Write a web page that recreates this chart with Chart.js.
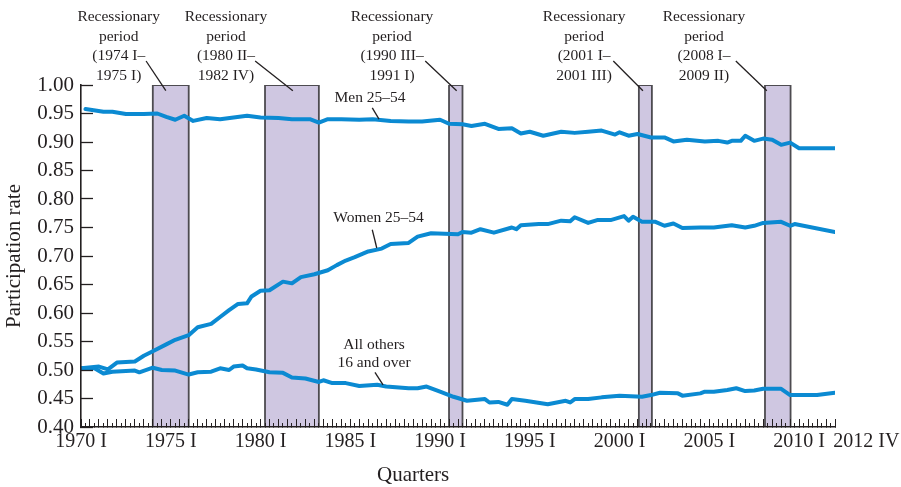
<!DOCTYPE html>
<html lang="en">
<head>
<meta charset="UTF-8">
<title>Participation rates</title>
<script src="https://cdn.jsdelivr.net/npm/chart.js"></script>
<style>
  body { margin: 0; background: #fff; }
  #wrap { width: 901px; height: 487px; }
</style>
</head>
<body>
<div id="wrap"><canvas id="myChart" width="901" height="487"></canvas></div>
<script>
// x values are quarter numbers: 0 = 1970 I, 168 = 2012 I
const menQ = [1,5,7,10,14,17,19,21,23,25,28,31,34,37,40,44,47,51,53,55,58,62,65,69,73,76,80,82,85,87,90,93,96,98,100,103,107,110,113,116,119,120,122,124,127,130,132,135,139,142,144,145,147,148,150,152,154,156,158,160,168];
const menRate = [0.958,0.953,0.953,0.949,0.949,0.950,0.944,0.939,0.946,0.937,0.942,0.940,0.943,0.946,0.943,0.942,0.940,0.940,0.934,0.940,0.940,0.939,0.940,0.937,0.936,0.936,0.939,0.932,0.931,0.928,0.932,0.923,0.924,0.915,0.918,0.911,0.918,0.916,0.918,0.920,0.913,0.917,0.911,0.914,0.908,0.908,0.901,0.904,0.901,0.902,0.899,0.902,0.902,0.911,0.902,0.906,0.904,0.895,0.899,0.889,0.889];

const womenQ = [0,4,6,8,12,14,16,19,21,24,26,29,31,33,35,37,38,40,42,45,47,49,52,55,57,59,61,64,67,69,73,75,78,81,84,85,87,89,92,96,97,98,102,104,107,109,110,113,115,118,121,122,123,125,128,130,132,134,138,141,145,148,150,152,156,158,159,168];
const womenRate = [0.503,0.506,0.501,0.513,0.515,0.525,0.533,0.545,0.553,0.561,0.575,0.581,0.593,0.605,0.616,0.617,0.629,0.639,0.640,0.655,0.652,0.663,0.668,0.675,0.684,0.692,0.698,0.708,0.713,0.721,0.723,0.734,0.740,0.739,0.738,0.742,0.741,0.747,0.741,0.750,0.747,0.754,0.756,0.756,0.762,0.761,0.768,0.758,0.763,0.763,0.770,0.762,0.769,0.760,0.760,0.753,0.757,0.749,0.750,0.750,0.754,0.750,0.753,0.758,0.760,0.753,0.756,0.742];

const othersQ = [0,3,5,7,12,13,16,18,21,24,26,29,31,33,34,36,37,39,42,45,47,50,53,54,56,59,62,66,68,73,75,77,80,83,86,90,91,93,95,96,99,104,108,109,110,113,116,120,125,127,129,133,134,138,139,141,144,146,148,150,152,156,158,164,168];
const othersRate = [0.503,0.503,0.494,0.497,0.499,0.496,0.504,0.500,0.499,0.492,0.496,0.497,0.503,0.500,0.506,0.508,0.503,0.501,0.496,0.495,0.487,0.485,0.479,0.482,0.477,0.477,0.472,0.474,0.471,0.468,0.468,0.471,0.462,0.453,0.446,0.449,0.443,0.444,0.439,0.449,0.446,0.440,0.446,0.443,0.449,0.449,0.452,0.455,0.453,0.456,0.460,0.459,0.455,0.459,0.462,0.462,0.465,0.468,0.463,0.464,0.467,0.467,0.456,0.456,0.460];

// shaded recessions, start and end quarter as drawn
const recessionStart = [16, 41, 82, 124.3, 152.4];
const recessionEnd = [24, 53, 85, 127.2, 158.1];
const recessionText = [
  ['Recessionary', 'period', '(1974 I–', '1975 I)'],
  ['Recessionary', 'period', '(1980 II–', '1982 IV)'],
  ['Recessionary', 'period', '(1990 III–', '1991 I)'],
  ['Recessionary', 'period', '(2001 I–', '2001 III)'],
  ['Recessionary', 'period', '(2008 I–', '2009 II)']
];

const ink = '#231f20';
const blue = '#0b8ad2';
const serif = '"Liberation Serif", "DejaVu Serif", serif';

const toPts = (qs, vs) => qs.map((q, i) => ({ x: q, y: vs[i] }));

const series = [
  { label: 'Men 25–54', data: toPts(menQ, menRate) },
  { label: 'Women 25–54', data: toPts(womenQ, womenRate) },
  { label: 'All others 16 and over', data: toPts(othersQ, othersRate) }
].map(s => ({
  ...s,
  borderColor: blue,
  borderWidth: 4,
  pointRadius: 0,
  tension: 0,
  fill: false,
  borderJoinStyle: 'round',
  borderCapStyle: 'round',
  order: 0
}));

const bars = recessionStart.map((a, i) => ({
  label: 'recession',
  data: [{ x: a, y: 0.4 }, { x: a, y: 1 }, { x: recessionEnd[i], y: 1 }, { x: recessionEnd[i], y: 0.4 }],
  borderColor: '#4d4b50',
  borderWidth: 1.8,
  backgroundColor: '#cfc7e1',
  fill: 'start',
  pointRadius: 0,
  tension: 0,
  order: 1
}));

// text positions for the callouts, x in quarters
const recTextQ = [8.4, 32.3, 69.3, 112.1, 138.8];
const recLeaderQ = [[14.5, 18.9], [38.8, 47.2], [76.7, 83.7], [118.6, 125.2], [145.9, 152.8]];
const seriesNotes = [
  { lines: ['Men 25–54'], q: 64.4, v: [0.977], lead: [[64.9, 0.960], [66.4, 0.940]] },
  { lines: ['Women 25–54'], q: 66.3, v: [0.767], lead: [[64.9, 0.746], [65.9, 0.714]] },
  { lines: ['All others', '16 and over'], q: 65.3, v: [0.544, 0.512], lead: [[65.5, 0.496], [67.3, 0.474]] }
];

const notes = {
  id: 'notes',
  afterDraw(chart) {
    const { ctx, scales: { x, y } } = chart;
    ctx.save();
    ctx.fillStyle = ink;
    ctx.strokeStyle = ink;
    ctx.lineWidth = 1.3;
    ctx.textAlign = 'center';
    ctx.textBaseline = 'middle';
    ctx.font = '15.5px ' + serif;

    recessionText.forEach((lines, i) => {
      lines.forEach((t, j) => ctx.fillText(t, x.getPixelForValue(recTextQ[i]), 17 + j * 19.5));
      ctx.beginPath();
      ctx.moveTo(x.getPixelForValue(recLeaderQ[i][0]), 61);
      ctx.lineTo(x.getPixelForValue(recLeaderQ[i][1]), y.getPixelForValue(0.99));
      ctx.stroke();
    });

    seriesNotes.forEach(n => {
      n.lines.forEach((t, j) => ctx.fillText(t, x.getPixelForValue(n.q), y.getPixelForValue(n.v[j])));
      ctx.beginPath();
      ctx.moveTo(x.getPixelForValue(n.lead[0][0]), y.getPixelForValue(n.lead[0][1]));
      ctx.lineTo(x.getPixelForValue(n.lead[1][0]), y.getPixelForValue(n.lead[1][1]));
      ctx.stroke();
    });

    // last axis label sits past the end of the axis
    ctx.font = '20px ' + serif;
    ctx.fillText('2012 IV', x.getPixelForValue(175), 442);
    ctx.font = '21px ' + serif;
    ctx.fillText('Quarters', x.getPixelForValue(74), 475);
    ctx.restore();
  }
};

const ctx = document.getElementById('myChart').getContext('2d');
new Chart(ctx, {
  type: 'line',
  data: { datasets: [...series, ...bars] },
  options: {
    responsive: false,
    animation: false,
    layout: { padding: { top: 85, right: 66, bottom: 0, left: 0 } },
    plugins: { legend: { display: false }, tooltip: { enabled: false } },
    scales: {
      x: {
        type: 'linear',
        min: 0,
        max: 168,
        afterFit: s => { s.height = 60; },
        grid: { drawOnChartArea: false, tickLength: -4, color: ink, tickWidth: 1, z: 1 },
        border: { color: ink, width: 1.6, z: 1 },
        ticks: {
          stepSize: 1,
          autoSkip: false,
          maxRotation: 0,
          minRotation: 0,
          padding: 7,
          color: ink,
          font: { family: serif, size: 20 },
          callback: v => (v % 20 === 0 ? (1970 + v / 4) + ' I' : '')
        }
      },
      xYears: {
        type: 'linear',
        position: 'bottom',
        axis: 'x',
        weight: -1,
        min: 0,
        max: 168,
        afterFit: s => { s.height = 0; },
        grid: { drawOnChartArea: false, tickLength: -8, color: ink, tickWidth: 1, z: 1 },
        border: { display: false },
        ticks: { display: false, stepSize: 2, autoSkip: false }
      },
      y: {
        min: 0.4,
        max: 1.0,
        afterFit: s => { s.width = 81; },
        grid: { drawOnChartArea: false, tickLength: -12, color: ink, tickWidth: 1.3, z: 1 },
        border: { color: ink, width: 1.6, z: 1 },
        ticks: {
          stepSize: 0.05,
          padding: 19,
          color: ink,
          font: { family: serif, size: 21 },
          callback: v => v.toFixed(2)
        },
        title: {
          display: true,
          text: 'Participation rate',
          color: ink,
          font: { family: serif, size: 21 },
          padding: { top: 2, bottom: 0 }
        }
      }
    }
  },
  plugins: [notes]
});
</script>
</body>
</html>
